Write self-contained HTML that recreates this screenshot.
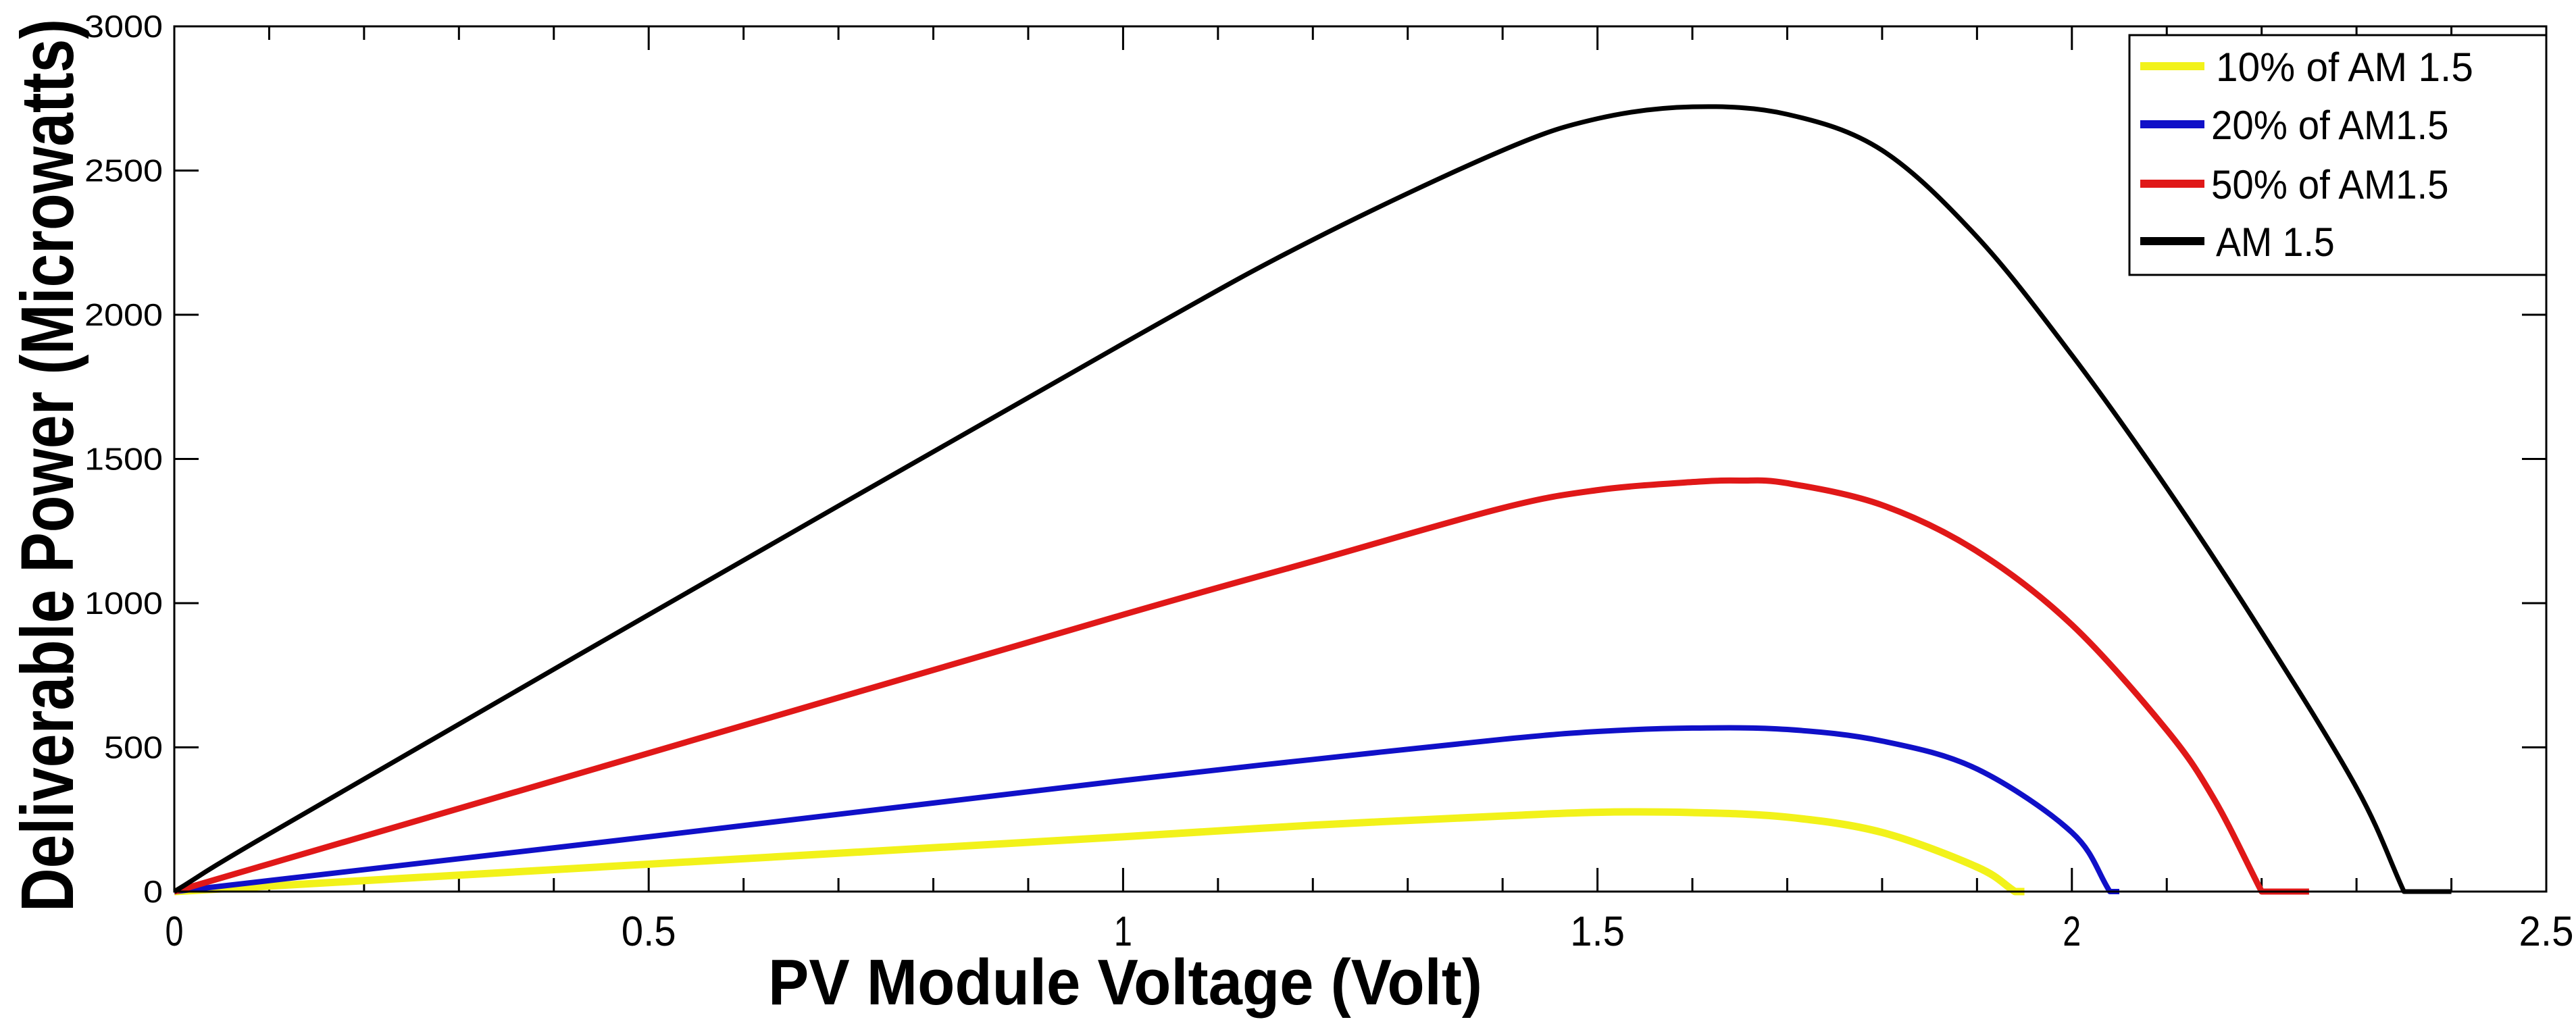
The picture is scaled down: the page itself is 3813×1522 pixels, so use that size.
<!DOCTYPE html>
<html><head><meta charset="utf-8"><style>
html,body{margin:0;padding:0;background:#fff;}
svg{display:block;}
text{font-family:"Liberation Sans",sans-serif;fill:#000;}
</style></head><body>
<svg id="chart" width="3813" height="1522" viewBox="0 0 3813 1522" xmlns="http://www.w3.org/2000/svg">
<rect x="0" y="0" width="3813" height="1522" fill="#fff"/>
<g id="ticks"></g>
<g id="series"></g>
<rect x="258" y="39" width="3511" height="1281" fill="none" stroke="#000" stroke-width="3"/>
<g id="labels"></g>
<text x="1137" y="1487" font-size="96" font-weight="bold" textLength="1057" lengthAdjust="spacingAndGlyphs">PV Module Voltage (Volt)</text>
<text transform="translate(108,1350) rotate(-90)" x="0" y="0" font-size="110" font-weight="bold" textLength="1322" lengthAdjust="spacingAndGlyphs">Deliverable Power (Microwatts)</text>
<g id="legend">
<rect x="3152" y="52" width="617" height="355" fill="#fff" stroke="#000" stroke-width="3"/>
</g>
</svg>
<script>
const xTickValues=[0,0.5,1,1.5,2,2.5];
const xTickLabels=["0","0.5","1","1.5","2","2.5"];
const yTickValues=[0,500,1000,1500,2000,2500,3000];
const yTickLabels=["0","500","1000","1500","2000","2500","3000"];
const seriesNames=["10% of AM 1.5","20% of AM1.5","50% of AM1.5","AM 1.5"];
const seriesColors=["#f2f21a","#1010c8","#e01818","#000000"];
const vYellow=[0,0.1,0.5,1.0,1.2,1.4,1.5,1.6,1.7,1.8,1.9,1.94,1.95];
const pYellow=[0,19,95,190,230,262,275,274,258,205,85,0,0];
const vBlue=[0,0.1,0.5,1.0,1.2,1.4,1.5,1.6,1.7,1.8,1.9,2.0,2.04,2.05];
const pBlue=[0,38,190,385,458,528,555,567,562,522,425,205,0,0];
const vRed=[0,0.1,0.5,1.0,1.2,1.4,1.5,1.6,1.65,1.7,1.8,1.9,2.0,2.1,2.15,2.2,2.25];
const pRed=[0,96,480,960,1145,1330,1392,1420,1425,1416,1340,1180,925,560,320,0,0];
const vBlack=[0,0.1,0.5,1.0,1.2,1.4,1.5,1.6,1.7,1.8,1.9,2.0,2.1,2.2,2.3,2.35,2.4];
const pBlack=[0,200,960,1900,2260,2570,2680,2721,2695,2570,2270,1860,1400,900,360,0,0];
const seriesV=[vYellow,vBlue,vRed,vBlack];
const seriesP=[pYellow,pBlue,pRed,pBlack];

const X0=258,X1=3769,Y0=1320,Y1=39;
function xs(v){return X0+(v/2.5)*(X1-X0);}
function ys(p){return Y0-(p/3000)*(Y0-Y1);}
const NS="http://www.w3.org/2000/svg";
function mk(tag,attrs,parent){const e=document.createElementNS(NS,tag);for(const k in attrs)e.setAttribute(k,attrs[k]);parent.appendChild(e);return e;}

const ticks=document.getElementById('ticks');
for(let i=0;i<=25;i++){
  const v=i/10, x=xs(v), len=(i%5===0)?35:20;
  let t=mk('line',{x1:x,x2:x,y1:Y0,y2:Y0-len,stroke:'#000','stroke-width':3},ticks);
  
  
  t=mk('line',{x1:x,x2:x,y1:Y1,y2:Y1+len,stroke:'#000','stroke-width':3},ticks);
  
  
}
yTickValues.forEach(p=>{
  const y=ys(p);
  let t=mk('line',{x1:X0,x2:X0+36,y1:y,y2:y,stroke:'#000','stroke-width':3},ticks);
  
  
  t=mk('line',{x1:X1,x2:X1-36,y1:y,y2:y,stroke:'#000','stroke-width':3},ticks);
  
  
});

const labels=document.getElementById('labels');
xTickValues.forEach((v,i)=>{
  const s=xTickLabels[i];
  const t=mk('text',{x:xs(v),y:1400,'font-size':62,'text-anchor':'middle',textLength:s.length*27,lengthAdjust:'spacingAndGlyphs'},labels);
  t.textContent=s;
  
  
});
yTickValues.forEach((p,i)=>{
  const s=yTickLabels[i];
  const t=mk('text',{x:241,y:ys(p)+16,'font-size':46,'text-anchor':'end',textLength:s.length*29,lengthAdjust:'spacingAndGlyphs'},labels);
  t.textContent=s;
  
  
});

function crPath(px,py){
  const n=px.length;
  let s='M'+px[0]+','+py[0];
  for(let i=0;i<n-1;i++){
    const p0x=i>0?px[i-1]:2*px[i]-px[i+1], p0y=i>0?py[i-1]:2*py[i]-py[i+1];
    const p3x=i<n-2?px[i+2]:2*px[i+1]-px[i], p3y=i<n-2?py[i+2]:2*py[i+1]-py[i];
    const c1x=px[i]+(px[i+1]-p0x)/6, c1y=py[i]+(py[i+1]-p0y)/6;
    const c2x=px[i+1]-(p3x-px[i])/6, c2y=py[i+1]-(p3y-py[i])/6;
    s+=' C'+c1x+','+c1y+' '+c2x+','+c2y+' '+px[i+1]+','+py[i+1];
  }
  return s;
}
function seriesPath(vs,ps){
  let z=vs.length-1;
  for(let i=1;i<ps.length;i++){if(ps[i]===0){z=i;break;}}
  const px=vs.slice(0,z+1).map(xs), py=ps.slice(0,z+1).map(ys);
  let d=crPath(px,py);
  for(let i=z+1;i<vs.length;i++)d+=' L'+xs(vs[i])+','+ys(ps[i]);
  return d;
}
const seriesG=document.getElementById('series');
const widths=[11,8,9,7];
const snames=['line-10pct-am15','line-20pct-am15','line-50pct-am15','line-am15'];
seriesV.forEach((vs,k)=>{
  const p=mk('path',{d:seriesPath(vs,seriesP[k]),fill:'none',stroke:seriesColors[k],'stroke-width':widths[k],'stroke-linejoin':'round'},seriesG);
  
  
});

const legend=document.getElementById('legend');
const rowY=[98,184,272,357];
seriesNames.forEach((nm,k)=>{
  const l=mk('line',{x1:3168,x2:3263,y1:rowY[k],y2:rowY[k],stroke:seriesColors[k],'stroke-width':12},legend);
  
  
  const t=mk('text',{x:(k===0||k===3)?3280:3273,y:rowY[k]+22,'font-size':60,textLength:nm.length*29.3,lengthAdjust:'spacingAndGlyphs'},legend);
  t.textContent=nm;
  
  
});
</script>
</body></html>
